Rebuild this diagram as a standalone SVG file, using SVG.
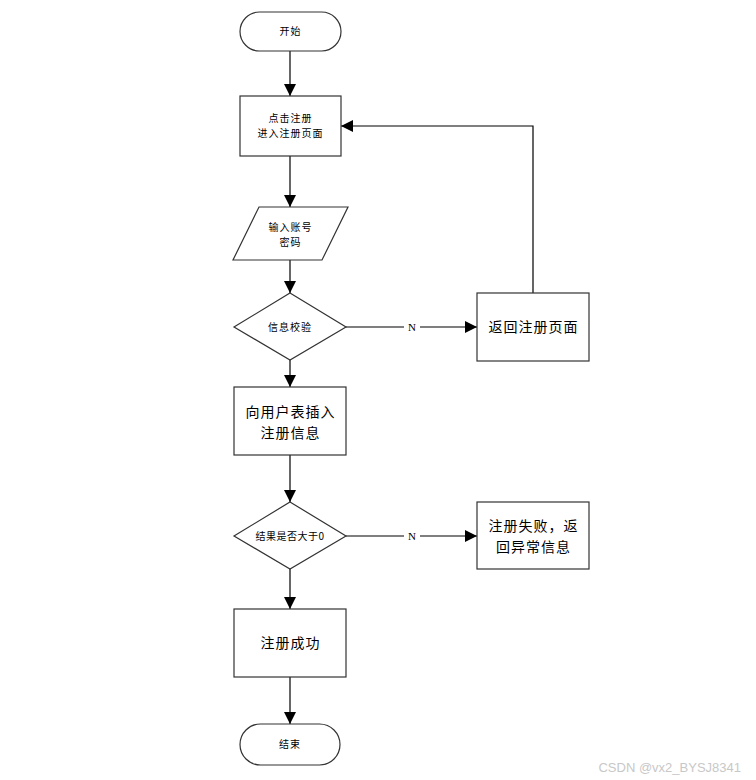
<svg xmlns="http://www.w3.org/2000/svg" width="756" height="780" viewBox="0 0 756 780">
<defs>
<marker id="ah" markerWidth="12" markerHeight="12" viewBox="0 0 12 12" refX="12" refY="6" orient="auto" markerUnits="userSpaceOnUse">
<path d="M0,0 L12,6 L0,12 Z" fill="#000"/>
</marker>
<style>
.s{fill:#fff;stroke:#333;stroke-width:1.2}
.t{font-family:"Noto Sans CJK SC","Liberation Sans",sans-serif;fill:#000;text-anchor:middle}
.sm{font-size:10px;letter-spacing:1px}
.lg{font-size:14px;letter-spacing:1px}
.c{fill:none;stroke:#000;stroke-width:1.2}
.n{font-family:"Liberation Serif",serif;font-size:11px;fill:#000;text-anchor:middle}
</style>
</defs>
<rect width="756" height="780" fill="#fff"/>
<g id="connectors">
<line class="c" x1="290" y1="51" x2="290" y2="96" marker-end="url(#ah)"/>
<line class="c" x1="290" y1="156" x2="290" y2="207" marker-end="url(#ah)"/>
<line class="c" x1="290" y1="260" x2="290" y2="293" marker-end="url(#ah)"/>
<line class="c" x1="346" y1="327" x2="477" y2="327" marker-end="url(#ah)"/>
<rect x="404" y="320" width="16" height="14" fill="#fff"/>
<text class="n" x="412" y="331">N</text>
<polyline class="c" points="533,293 533,126 341,126" marker-end="url(#ah)"/>
<line class="c" x1="290" y1="360" x2="290" y2="387" marker-end="url(#ah)"/>
<line class="c" x1="290" y1="455" x2="290" y2="502" marker-end="url(#ah)"/>
<line class="c" x1="346" y1="536" x2="477" y2="536" marker-end="url(#ah)"/>
<rect x="404" y="529" width="16" height="14" fill="#fff"/>
<text class="n" x="412" y="540">N</text>
<line class="c" x1="290" y1="569" x2="290" y2="609" marker-end="url(#ah)"/>
<line class="c" x1="290" y1="677" x2="290" y2="724" marker-end="url(#ah)"/>
</g>
<g id="start">
<rect class="s" x="240" y="12" width="101" height="39" rx="19.5"/>
<text class="t sm" x="290.5" y="35">开始</text>
</g>
<g id="click">
<rect class="s" x="240" y="96" width="101" height="60"/>
<text class="t sm" x="290.5" y="122">点击注册</text>
<text class="t sm" x="290.5" y="137">进入注册页面</text>
</g>
<g id="input">
<polygon class="s" points="259,207 348,207 322,260 233,260"/>
<text class="t sm" x="290.5" y="231">输入账号</text>
<text class="t sm" x="290.5" y="246">密码</text>
</g>
<g id="check">
<polygon class="s" points="290,293 346,327 290,360 234,327"/>
<text class="t sm" x="290" y="331">信息校验</text>
</g>
<g id="back">
<rect class="s" x="477" y="293" width="112" height="68"/>
<text class="t lg" x="533.5" y="332">返回注册页面</text>
</g>
<g id="insert">
<rect class="s" x="234" y="387" width="112" height="68"/>
<text class="t lg" x="290.5" y="417">向用户表插入</text>
<text class="t lg" x="290.5" y="438">注册信息</text>
</g>
<g id="result">
<polygon class="s" points="290,502 346,536 290,569 234,536"/>
<text class="t sm" x="290" y="540" style="letter-spacing:0.5px">结果是否大于0</text>
</g>
<g id="fail">
<rect class="s" x="477" y="502" width="112" height="67"/>
<text class="t lg" x="533.5" y="531">注册失败，返</text>
<text class="t lg" x="533.5" y="552">回异常信息</text>
</g>
<g id="success">
<rect class="s" x="234" y="609" width="112" height="68"/>
<text class="t lg" x="290.5" y="648">注册成功</text>
</g>
<g id="end">
<rect class="s" x="240" y="724" width="100" height="41" rx="20.5"/>
<text class="t sm" x="290" y="748">结束</text>
</g>
<text x="741" y="772" style="font-family:'Liberation Sans',sans-serif;font-size:13px;fill:#c8c8c8;text-anchor:end">CSDN @vx2_BYSJ8341</text>
</svg>
